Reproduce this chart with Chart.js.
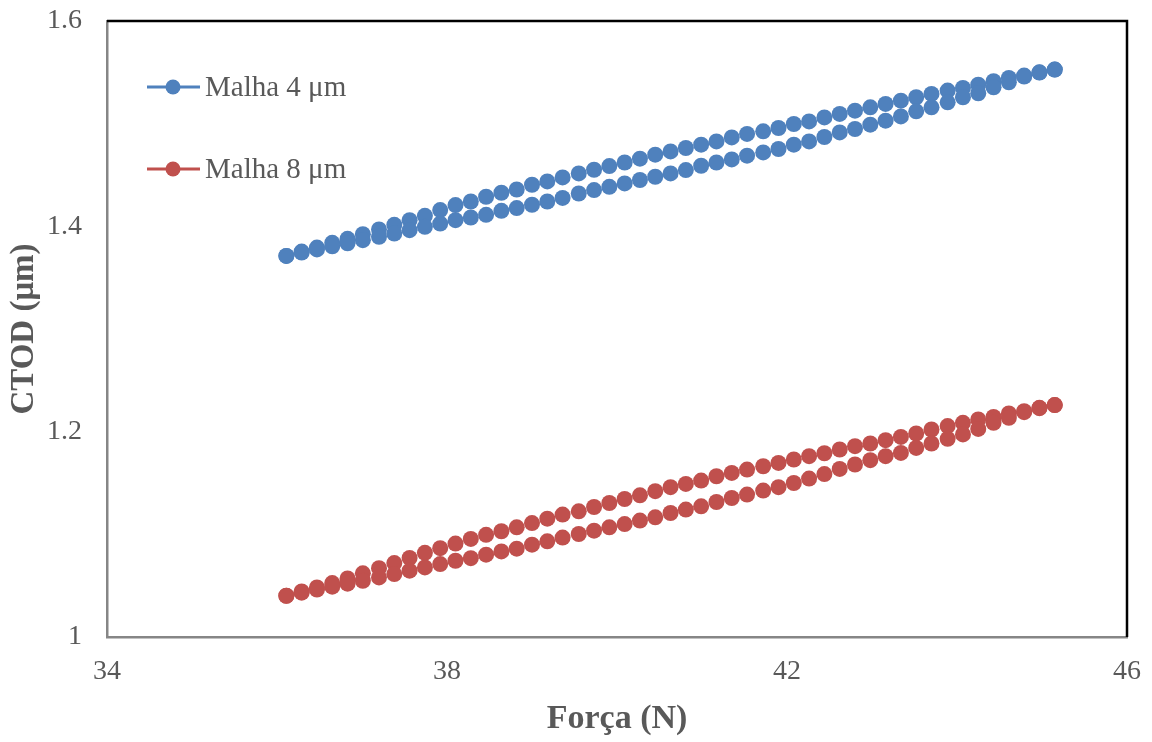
<!DOCTYPE html>
<html lang="pt">
<head>
<meta charset="utf-8">
<title>CTOD x Força</title>
<script src="https://cdn.jsdelivr.net/npm/chart.js@4.4.1/dist/chart.umd.min.js"></script>
<style>
  html, body { margin: 0; padding: 0; background: #ffffff; }
  #grafico { display: block; }
</style>
</head>
<body>
<canvas id="grafico" width="1152" height="742"></canvas>
<script>
//====================================
// DADOS
//====================================
const forca = [
    36.11, 36.29, 36.47, 36.65, 36.83, 37.01, 37.20, 37.38, 37.56, 37.74,
    37.92, 38.10, 38.28, 38.46, 38.64, 38.82, 39.00, 39.18, 39.36, 39.55,
    39.73, 39.91, 40.09, 40.27, 40.45, 40.63, 40.81, 40.99, 41.17, 41.35,
    41.53, 41.72, 41.90, 42.08, 42.26, 42.44, 42.62, 42.80, 42.98, 43.16,
    43.34, 43.52, 43.70, 43.89, 44.07, 44.25, 44.43, 44.61, 44.79, 44.97,
    45.15
];

// Malha 4 µm - ramo superior e ramo inferior do laço
const ctod4Superior = [
    1.3712, 1.3754, 1.3793, 1.3839, 1.3878, 1.3924, 1.3969, 1.4015, 1.4060, 1.4102,
    1.4158, 1.4207, 1.4242, 1.4288, 1.4327, 1.4359, 1.4405, 1.4437, 1.4476, 1.4515,
    1.4551, 1.4587, 1.4622, 1.4659, 1.4698, 1.4730, 1.4763, 1.4795, 1.4827, 1.4866,
    1.4900, 1.4925, 1.4958, 1.4997, 1.5022, 1.5061, 1.5095, 1.5127, 1.5159, 1.5192,
    1.5224, 1.5257, 1.5290, 1.5322, 1.5348, 1.5380, 1.5413, 1.5446, 1.5468, 1.5500,
    1.5527
];
const ctod4Inferior = [
    1.3712, 1.3745, 1.3775, 1.3805, 1.3835, 1.3865, 1.3898, 1.3930, 1.3963, 1.3995,
    1.4027, 1.4060, 1.4086, 1.4112, 1.4151, 1.4178, 1.4210, 1.4242, 1.4277, 1.4320,
    1.4353, 1.4385, 1.4418, 1.4451, 1.4483, 1.4515, 1.4548, 1.4590, 1.4622, 1.4652,
    1.4688, 1.4720, 1.4753, 1.4795, 1.4827, 1.4870, 1.4915, 1.4948, 1.4990, 1.5029,
    1.5071, 1.5120, 1.5159, 1.5208, 1.5257, 1.5296, 1.5354, 1.5403, 1.5459, 1.5498,
    1.5527
];

// Malha 8 µm - ramo superior e ramo inferior do laço
const ctod8Superior = [
    1.0402, 1.0444, 1.0483, 1.0525, 1.0570, 1.0620, 1.0670, 1.0720, 1.0770, 1.0820,
    1.0865, 1.0910, 1.0955, 1.0995, 1.1030, 1.1068, 1.1110, 1.1153, 1.1192, 1.1224,
    1.1266, 1.1305, 1.1344, 1.1380, 1.1420, 1.1459, 1.1491, 1.1524, 1.1566, 1.1598,
    1.1631, 1.1663, 1.1696, 1.1729, 1.1761, 1.1790, 1.1826, 1.1859, 1.1885, 1.1917,
    1.1949, 1.1982, 1.2021, 1.2054, 1.2086, 1.2119, 1.2144, 1.2178, 1.2200, 1.2232,
    1.2259
];
const ctod8Inferior = [
    1.0402, 1.0432, 1.0462, 1.0490, 1.0519, 1.0548, 1.0580, 1.0613, 1.0646, 1.0678,
    1.0710, 1.0743, 1.0768, 1.0802, 1.0834, 1.0860, 1.0899, 1.0932, 1.0968, 1.1003,
    1.1036, 1.1068, 1.1100, 1.1134, 1.1166, 1.1208, 1.1241, 1.1273, 1.1315, 1.1354,
    1.1387, 1.1426, 1.1459, 1.1500, 1.1543, 1.1587, 1.1637, 1.1680, 1.1722, 1.1761,
    1.1793, 1.1842, 1.1885, 1.1930, 1.1973, 1.2027, 1.2086, 1.2135, 1.2190, 1.2229,
    1.2259
];

const eixoXTicks = [34, 38, 42, 46];
const eixoYTicks = [1, 1.2, 1.4, 1.6];

//====================================
// MONTAGEM DOS PONTOS
//====================================
// ramo superior na ida, ramo inferior na volta
function montarLaco(superior, inferior) {
    const pontos = forca.map((f, i) => ({ x: f, y: superior[i] }));
    for (let i = forca.length - 1; i >= 0; i--) {
        pontos.push({ x: forca[i], y: inferior[i] });
    }
    return pontos;
}

const fonteSerif = '"Liberation Serif", "Times New Roman", serif';
const corTexto = '#595959';

// Legenda dentro da área do gráfico (linha + marcador, como no Excel)
const legendaInterna = {
    id: 'legendaInterna',
    afterDraw(chart) {
        const ctx = chart.ctx;
        const itens = [
            { y: 87, ds: chart.data.datasets[0] },
            { y: 169, ds: chart.data.datasets[1] }
        ];
        ctx.save();
        itens.forEach(item => {
            ctx.strokeStyle = item.ds.borderColor;
            ctx.lineWidth = 3;
            ctx.beginPath();
            ctx.moveTo(147, item.y);
            ctx.lineTo(200, item.y);
            ctx.stroke();
            ctx.fillStyle = item.ds.backgroundColor;
            ctx.beginPath();
            ctx.arc(173, item.y, 7.5, 0, Math.PI * 2);
            ctx.fill();
            ctx.fillStyle = corTexto;
            ctx.font = '29px ' + fonteSerif;
            ctx.textBaseline = 'middle';
            ctx.textAlign = 'left';
            ctx.fillText(item.ds.label, 205, item.y + 1);
        });
        ctx.restore();
    }
};

// Moldura preta em cima e à direita
const moldura = {
    id: 'moldura',
    beforeDatasetsDraw(chart) {
        const { ctx, chartArea } = chart;
        ctx.save();
        ctx.strokeStyle = '#000000';
        ctx.lineWidth = 2.5;
        ctx.beginPath();
        ctx.moveTo(chartArea.left, chartArea.top);
        ctx.lineTo(chartArea.right, chartArea.top);
        ctx.lineTo(chartArea.right, chartArea.bottom);
        ctx.stroke();
        ctx.restore();
    }
};

document.addEventListener('DOMContentLoaded', function () {
    const canvas = document.getElementById('grafico');
    if (!canvas) {
        console.error('Canvas não encontrado.');
        return;
    }

    new Chart(canvas, {
        type: 'scatter',
        data: {
            datasets: [
                {
                    label: 'Malha 4 μm',
                    data: montarLaco(ctod4Superior, ctod4Inferior),
                    backgroundColor: '#4F81BD',
                    borderColor: '#4F81BD',
                    pointRadius: 8,
                    pointBorderWidth: 0,
                    showLine: false
                },
                {
                    label: 'Malha 8 μm',
                    data: montarLaco(ctod8Superior, ctod8Inferior),
                    backgroundColor: '#C0504D',
                    borderColor: '#C0504D',
                    pointRadius: 8,
                    pointBorderWidth: 0,
                    showLine: false
                }
            ]
        },
        options: {
            responsive: false,
            animation: false,
            devicePixelRatio: 1,
            layout: { padding: { top: 21, right: 25, left: 0, bottom: 0 } },
            plugins: {
                legend: { display: false },
                tooltip: { enabled: false }
            },
            scales: {
                x: {
                    type: 'linear',
                    min: 34,
                    max: 46,
                    afterBuildTicks(scale) {
                        scale.ticks = eixoXTicks.map(v => ({ value: v }));
                    },
                    afterFit(scale) {
                        scale.height = 105;
                        scale.paddingLeft = 0;
                        scale.paddingRight = 0;
                    },
                    grid: { display: false, drawTicks: false },
                    border: { display: true, color: '#868686', width: 2.5 },
                    ticks: {
                        padding: 18,
                        color: corTexto,
                        font: { family: fonteSerif, size: 28 },
                        callback: v => String(v)
                    },
                    title: {
                        display: true,
                        text: 'Força (N)',
                        color: corTexto,
                        font: { family: fonteSerif, size: 34, weight: 'bold' },
                        padding: { top: 0, bottom: 2 }
                    }
                },
                y: {
                    type: 'linear',
                    min: 1,
                    max: 1.6,
                    afterBuildTicks(scale) {
                        scale.ticks = eixoYTicks.map(v => ({ value: v }));
                    },
                    afterFit(scale) {
                        scale.width = 107;
                        scale.paddingTop = 0;
                        scale.paddingBottom = 0;
                    },
                    grid: { display: false, drawTicks: false },
                    border: { display: true, color: '#868686', width: 2.5 },
                    ticks: {
                        padding: 25,
                        color: corTexto,
                        font: { family: fonteSerif, size: 28 },
                        callback: v => String(Number(v.toFixed(1)))
                    },
                    title: {
                        display: true,
                        text: 'CTOD (μm)',
                        color: corTexto,
                        font: { family: fonteSerif, size: 33, weight: 'bold' },
                        padding: { top: 5, bottom: 0 }
                    }
                }
            }
        },
        plugins: [moldura, legendaInterna]
    });
});
</script>
</body>
</html>
